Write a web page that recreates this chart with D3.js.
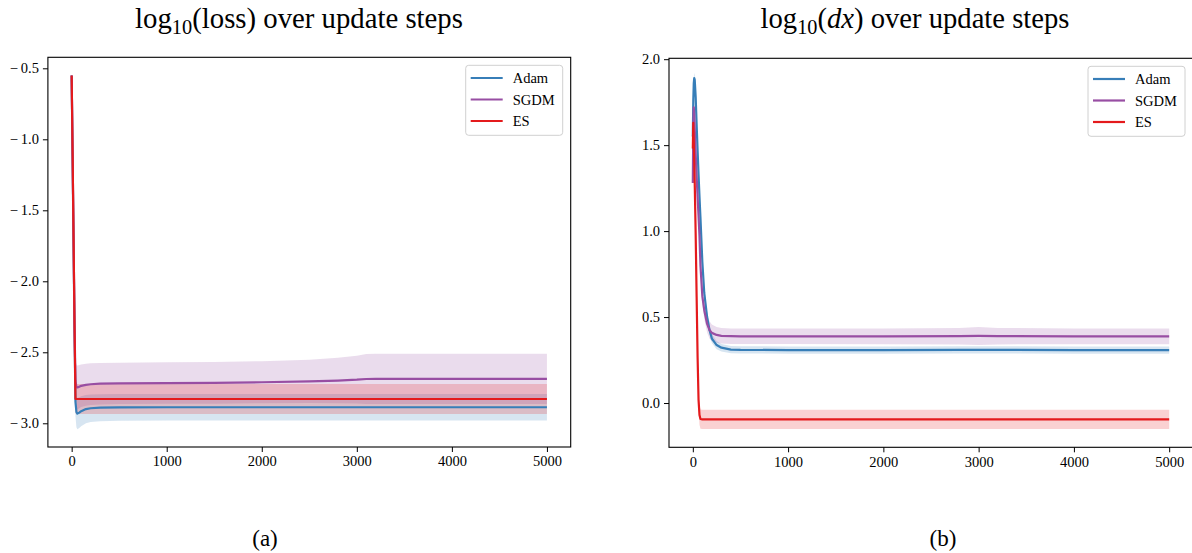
<!DOCTYPE html>
<html>
<head>
<meta charset="utf-8">
<script src="https://cdn.jsdelivr.net/npm/d3@7"></script>
<style>
  body { margin: 0; background: #fff; }
  text { font-family: "Liberation Serif", "DejaVu Serif", serif; fill: #000; }
</style>
</head>
<body>
<svg id="chart" width="1192" height="553"></svg>
<script>
// ---- data ----
const seriesNames = ['Adam', 'SGDM', 'ES'];
const xTicks = [0, 1000, 2000, 3000, 4000, 5000];
const lossTicks = [-3.0, -2.5, -2.0, -1.5, -1.0, -0.5];
const dxTicks = [0.0, 0.5, 1.0, 1.5, 2.0];

// log10(loss)
const lossSteps = [0, 10, 20, 30, 40, 50, 60, 80, 100, 150, 200, 300, 500, 1000, 1500, 2000, 2500, 2800, 3000, 3100, 3200, 3500, 4000, 4500, 5000];
const lossAdamMean = [-0.55, -1.15, -1.75, -2.35, -2.85, -2.92, -2.932, -2.925, -2.915, -2.9, -2.894, -2.89, -2.888, -2.887, -2.887, -2.887, -2.887, -2.887, -2.887, -2.887, -2.887, -2.887, -2.887, -2.887, -2.887];
const lossAdamStd = [0.02, 0.04, 0.06, 0.08, 0.1, 0.108, 0.11, 0.108, 0.105, 0.1, 0.097, 0.095, 0.094, 0.094, 0.094, 0.094, 0.094, 0.094, 0.094, 0.094, 0.094, 0.094, 0.094, 0.094, 0.094];
const lossSgdmMean = [-0.55, -1.12, -1.7, -2.3, -2.7, -2.745, -2.748, -2.742, -2.736, -2.729, -2.725, -2.721, -2.719, -2.717, -2.715, -2.711, -2.705, -2.699, -2.693, -2.688, -2.687, -2.687, -2.687, -2.687, -2.687];
const lossSgdmStd = [0.02, 0.04, 0.06, 0.1, 0.14, 0.155, 0.155, 0.152, 0.15, 0.148, 0.147, 0.146, 0.146, 0.146, 0.147, 0.148, 0.152, 0.16, 0.168, 0.176, 0.177, 0.177, 0.177, 0.177, 0.177];
const lossEsMean = [-0.55, -1.1, -1.7, -2.3, -2.829, -2.829, -2.829, -2.829, -2.829, -2.829, -2.829, -2.829, -2.829, -2.829, -2.829, -2.829, -2.829, -2.829, -2.829, -2.829, -2.829, -2.829, -2.829, -2.829, -2.829];
const lossEsStd = [0.02, 0.04, 0.06, 0.08, 0.1, 0.105, 0.105, 0.105, 0.105, 0.105, 0.105, 0.105, 0.105, 0.105, 0.105, 0.105, 0.105, 0.105, 0.105, 0.105, 0.105, 0.105, 0.105, 0.105, 0.105];

// log10(dx)
const dxSteps = [0, 5, 10, 15, 20, 30, 40, 50, 60, 70, 80, 100, 120, 150, 175, 200, 250, 300, 400, 500, 1000, 2000, 2800, 3000, 3200, 4000, 5000];
const dxAdamMean = [1.55, 1.76, 1.86, 1.89, 1.88, 1.78, 1.62, 1.47, 1.33, 1.2, 1.08, 0.82, 0.64, 0.5, 0.425, 0.375, 0.337, 0.322, 0.311, 0.309, 0.308, 0.308, 0.309, 0.309, 0.309, 0.308, 0.308];
const dxAdamStd = [0.03, 0.03, 0.03, 0.03, 0.03, 0.03, 0.03, 0.03, 0.03, 0.03, 0.03, 0.03, 0.03, 0.03, 0.028, 0.026, 0.024, 0.022, 0.021, 0.021, 0.021, 0.021, 0.021, 0.021, 0.021, 0.021, 0.021];
const dxSgdmMean = [1.28, 1.6, 1.72, 1.68, 1.6, 1.45, 1.32, 1.2, 1.09, 0.97, 0.8, 0.62, 0.54, 0.46, 0.425, 0.408, 0.396, 0.391, 0.389, 0.388, 0.388, 0.388, 0.389, 0.39, 0.389, 0.388, 0.388];
const dxSgdmStd = [0.03, 0.04, 0.04, 0.04, 0.04, 0.04, 0.04, 0.04, 0.04, 0.04, 0.04, 0.045, 0.05, 0.05, 0.05, 0.048, 0.046, 0.045, 0.045, 0.045, 0.045, 0.046, 0.048, 0.052, 0.048, 0.046, 0.046];
const dxEsMean = [1.48, 1.63, 1.52, 1.4, 1.28, 0.98, 0.62, 0.27, 0.02, -0.07, -0.093, -0.095, -0.095, -0.095, -0.095, -0.095, -0.095, -0.095, -0.095, -0.095, -0.095, -0.095, -0.095, -0.095, -0.095, -0.095, -0.095];
const dxEsStd = [0.05, 0.05, 0.05, 0.05, 0.05, 0.05, 0.05, 0.05, 0.05, 0.056, 0.056, 0.056, 0.056, 0.056, 0.056, 0.056, 0.056, 0.056, 0.056, 0.056, 0.056, 0.056, 0.056, 0.056, 0.056, 0.056, 0.056];

// ---- styles ----
const colors = { Adam: '#377eb8', SGDM: '#984ea3', ES: '#e41a1c' };
const svg = d3.select('#chart');
const fmt = d3.format('.1f');

function zipSeries(steps, mean, std) {
    return steps.map((s, i) => ({ x: s, m: mean[i], lo: mean[i] - std[i], hi: mean[i] + std[i] }));
}

function drawPanel(cfg) {
    const { id, left, right, top, bottom, yDomain, yTicks, series, title, label } = cfg;

    const x = d3.scaleLinear().domain([-250, 5250]).range([left, right]);
    const y = d3.scaleLinear().domain(yDomain).range([bottom, top]);

    const g = svg.append('g');

    svg.append('clipPath').attr('id', 'clip-' + id)
        .append('rect')
        .attr('x', left).attr('y', top)
        .attr('width', right - left).attr('height', bottom - top);

    const plot = g.append('g').attr('clip-path', `url(#clip-${id})`);
    const bands = plot.append('g');
    const lines = plot.append('g');

    const area = d3.area().x(d => x(d.x)).y0(d => y(d.lo)).y1(d => y(d.hi));
    const line = d3.line().x(d => x(d.x)).y(d => y(d.m));

    // shaded bands underneath, mean lines on top
    series.forEach(s => {
        const pts = zipSeries(s.steps, s.mean, s.std);
        bands.append('path')
            .attr('d', area(pts))
            .attr('fill', colors[s.name])
            .attr('fill-opacity', 0.2)
            .attr('stroke', 'none');
        lines.append('path')
            .attr('d', line(pts))
            .attr('fill', 'none')
            .attr('stroke', colors[s.name])
            .attr('stroke-width', 2.2)
            .attr('stroke-linejoin', 'round');
    });

    // axes
    const xAxis = g.append('g')
        .attr('transform', `translate(0,${bottom})`)
        .call(d3.axisBottom(x).tickValues(xTicks).tickFormat(d3.format('d')).tickSize(5).tickPadding(4));
    const yAxis = g.append('g')
        .attr('transform', `translate(${left},0)`)
        .call(d3.axisLeft(y).tickValues(yTicks).tickFormat(d => fmt(d).replace('−', '−\u2009')).tickSize(5).tickPadding(4));

    [xAxis, yAxis].forEach(a => {
        a.select('.domain').remove();
        a.selectAll('.tick line').attr('stroke', '#000').attr('stroke-width', 1);
        a.selectAll('.tick text')
            .attr('font-family', '"Liberation Serif", serif')
            .attr('font-size', 14.5)
            .attr('fill', '#000');
    });

    // frame
    g.append('rect')
        .attr('x', left).attr('y', top)
        .attr('width', right - left).attr('height', bottom - top)
        .attr('fill', 'none').attr('stroke', '#000').attr('stroke-width', 1.1);

    // legend
    const lw = 97, lh = 70;
    const legX = right - 8 - lw, legY = top + 8;
    const leg = g.append('g').attr('transform', `translate(${legX},${legY})`);
    leg.append('rect')
        .attr('width', lw).attr('height', lh)
        .attr('rx', 3)
        .attr('fill', '#fff').attr('fill-opacity', 0.8)
        .attr('stroke', '#d0d0d0').attr('stroke-width', 1);
    seriesNames.forEach((n, i) => {
        const ry = 12.7 + i * 21.5;
        leg.append('line')
            .attr('x1', 5).attr('x2', 37).attr('y1', ry).attr('y2', ry)
            .attr('stroke', colors[n]).attr('stroke-width', 2.2);
        leg.append('text')
            .attr('x', 47).attr('y', ry)
            .attr('dy', '0.35em')
            .attr('font-size', 14.5)
            .text(n);
    });

    // title
    const t = svg.append('text')
        .attr('x', title.cx).attr('y', 28)
        .attr('text-anchor', 'middle')
        .attr('font-size', 24);
    t.append('tspan').text('log');
    t.append('tspan').attr('font-size', 17).attr('dy', 6).text('10');
    t.append('tspan').attr('dy', -6).text('(');
    if (title.italic) {
        t.append('tspan').attr('font-style', 'italic').text(title.arg);
    } else {
        t.append('tspan').text(title.arg);
    }
    t.append('tspan').text(') over update steps');
    const w = t.node().getComputedTextLength();
    const k = title.width / w;
    t.attr('font-size', 24 * k);
    t.select('tspan:nth-child(2)').attr('font-size', 17 * k);

    svg.append('text')
        .attr('x', label.cx).attr('y', 546)
        .attr('text-anchor', 'middle')
        .attr('font-size', 23)
        .text(label.text);
}

drawPanel({
    id: 'loss', left: 47.9, right: 570.7, top: 57.3, bottom: 447,
    yDomain: [-3.167, -0.4225], yTicks: lossTicks,
    series: [
        { name: 'Adam', steps: lossSteps, mean: lossAdamMean, std: lossAdamStd },
        { name: 'SGDM', steps: lossSteps, mean: lossSgdmMean, std: lossSgdmStd },
        { name: 'ES', steps: lossSteps, mean: lossEsMean, std: lossEsStd }
    ],
    title: { cx: 299, width: 328, arg: 'loss', italic: false },
    label: { cx: 265, text: '(a)' }
});

drawPanel({
    id: 'dx', left: 669, right: 1193, top: 58.3, bottom: 447.3,
    yDomain: [-0.2576, 2.0052], yTicks: dxTicks,
    series: [
        { name: 'Adam', steps: dxSteps, mean: dxAdamMean, std: dxAdamStd },
        { name: 'SGDM', steps: dxSteps, mean: dxSgdmMean, std: dxSgdmStd },
        { name: 'ES', steps: dxSteps, mean: dxEsMean, std: dxEsStd }
    ],
    title: { cx: 915, width: 309, arg: 'dx', italic: true },
    label: { cx: 943, text: '(b)' }
});
</script>
</body>
</html>
